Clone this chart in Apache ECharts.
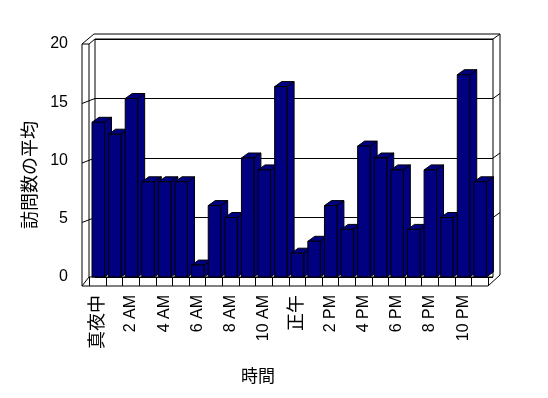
<!DOCTYPE html>
<html>
<head>
<meta charset="utf-8">
<script src="https://cdn.jsdelivr.net/npm/echarts@6/dist/echarts.min.js"></script>
<style>
  html, body { margin: 0; padding: 0; background: #fff; }
  #chart { width: 548px; height: 398px; }
</style>
</head>
<body>
<div id="chart"></div>
<script>
// データ
var hours = ['真夜中', '1 AM', '2 AM', '3 AM', '4 AM', '5 AM', '6 AM', '7 AM', '8 AM', '9 AM', '10 AM', '11 AM',
             '正午', '1 PM', '2 PM', '3 PM', '4 PM', '5 PM', '6 PM', '7 PM', '8 PM', '9 PM', '10 PM', '11 PM'];
var visits = [13, 12, 15, 8, 8, 8, 1, 6, 5, 10, 9, 16, 2, 3, 6, 4, 11, 10, 9, 4, 9, 5, 17, 8];
var yTicks = [0, 5, 10, 15, 20];

var font = '"Liberation Sans", "Noto Sans CJK JP", sans-serif';
var DX = 7, DY = -5;

var dom = document.getElementById('chart');
var myChart = echarts.init(dom);

/**
 * 3D風の棒
 */
function renderBar(params, api) {
    var base = api.coord([api.value(0), 0]);
    var top = api.coord([api.value(0), api.value(1)]);
    var bw = api.size([1, 0])[0];
    var x0 = base[0] - bw / 2 + 2.5;
    var x1 = x0 + bw * 0.75;
    var yt = top[1], yb = base[1];
    var style = { fill: '#000080', stroke: '#000', lineWidth: 1 };
    return {
        type: 'group',
        children: [
            { type: 'polygon', shape: { points: [[x1, yt], [x1 + DX, yt + DY], [x1 + DX, yb + DY], [x1, yb]] }, style: style },
            { type: 'polygon', shape: { points: [[x0, yt], [x0 + DX, yt + DY], [x1 + DX, yt + DY], [x1, yt]] }, style: style },
            { type: 'rect', shape: { x: x0, y: yt, width: x1 - x0, height: yb - yt }, style: style }
        ]
    };
}

function seg(a, b) {
    return { type: 'line', z: 1, shape: { x1: a[0], y1: a[1], x2: b[0], y2: b[1] },
             style: { stroke: '#000', lineWidth: 1 } };
}

var option = {
    backgroundColor: '#fff',
    animation: false,
    grid: [
        { left: 89.5, right: 60, top: 39, bottom: 121 },
        { left: 95, right: 55, top: 39, bottom: 121 },
        { left: 82, width: 1, top: 44, bottom: 121 }
    ],
    xAxis: [
        {
            gridIndex: 0, type: 'category', data: hours,
            axisLine: { show: false },
            axisTick: { show: true, interval: 0, length: 9, lineStyle: { color: '#000', width: 1 } },
            axisLabel: {
                interval: 1, rotate: 90, margin: 18, fontSize: 16, color: '#000', fontFamily: font,
                formatter: function (v) {
                    return /AM|PM/.test(v) ? v : '{c|' + v + '}';
                },
                rich: { c: { fontSize: 18, color: '#000', fontFamily: font } }
            }
        },
        { gridIndex: 1, type: 'value', min: 0, max: 1, show: false },
        { gridIndex: 2, type: 'value', min: 0, max: 1, show: false }
    ],
    yAxis: [
        { gridIndex: 0, type: 'value', min: 0, max: 20, interval: 5, show: false },
        {
            gridIndex: 1, type: 'value', min: 0, max: 20, interval: 5,
            axisLine: { show: false }, axisTick: { show: false }, axisLabel: { show: false },
            splitLine: { show: true, lineStyle: { color: '#000', width: 1 } }
        },
        {
            gridIndex: 2, type: 'value', min: 0, max: 20, interval: 5,
            axisLine: { show: false }, axisTick: { show: false }, splitLine: { show: false },
            axisLabel: { margin: 14, fontSize: 16, color: '#000', fontFamily: font }
        }
    ],
    series: [
        {
            name: '訪問数の平均',
            type: 'custom',
            xAxisIndex: 0,
            yAxisIndex: 0,
            data: visits.map(function (v, i) { return [i, v]; }),
            renderItem: renderBar
        }
    ]
};

myChart.setOption(option, true);

// 壁と床の線
var lines = [
    seg([82, 44], [82, 286]), seg([82, 44], [94, 34]), seg([94, 34], [500, 34]),
    seg([500, 34], [500, 275]), seg([500, 275], [488, 286]), seg([82, 286], [488, 286]),
    seg([82, 44], [89, 44]), seg([89, 44], [95, 39]), seg([95, 39], [493, 39]),
    seg([493, 39], [500, 34]), seg([89, 44], [89, 277]), seg([95, 39], [95, 277]),
    seg([493, 39], [493, 277]), seg([89, 277], [493, 277]), seg([82, 286], [89, 277])
];
for (var i = 1; i < yTicks.length - 1; i++) {
    var yb = myChart.convertToPixel({ yAxisIndex: 1 }, yTicks[i]);
    lines.push(seg([82, yb + 5], [95, yb]));
    lines.push(seg([493, yb], [500, yb - 5]));
}
lines.push({
    type: 'text', z: 1, x: 31, y: 175, rotation: Math.PI / 2,
    style: { text: '訪問数の平均', fontSize: 18, fontFamily: font, fill: '#000', align: 'center', verticalAlign: 'middle' }
});
lines.push({
    type: 'text', z: 1, x: 258, y: 377,
    style: { text: '時間', fontSize: 17, fontFamily: font, fill: '#000', align: 'center', verticalAlign: 'middle' }
});
myChart.setOption({ graphic: lines });
</script>
</body>
</html>
